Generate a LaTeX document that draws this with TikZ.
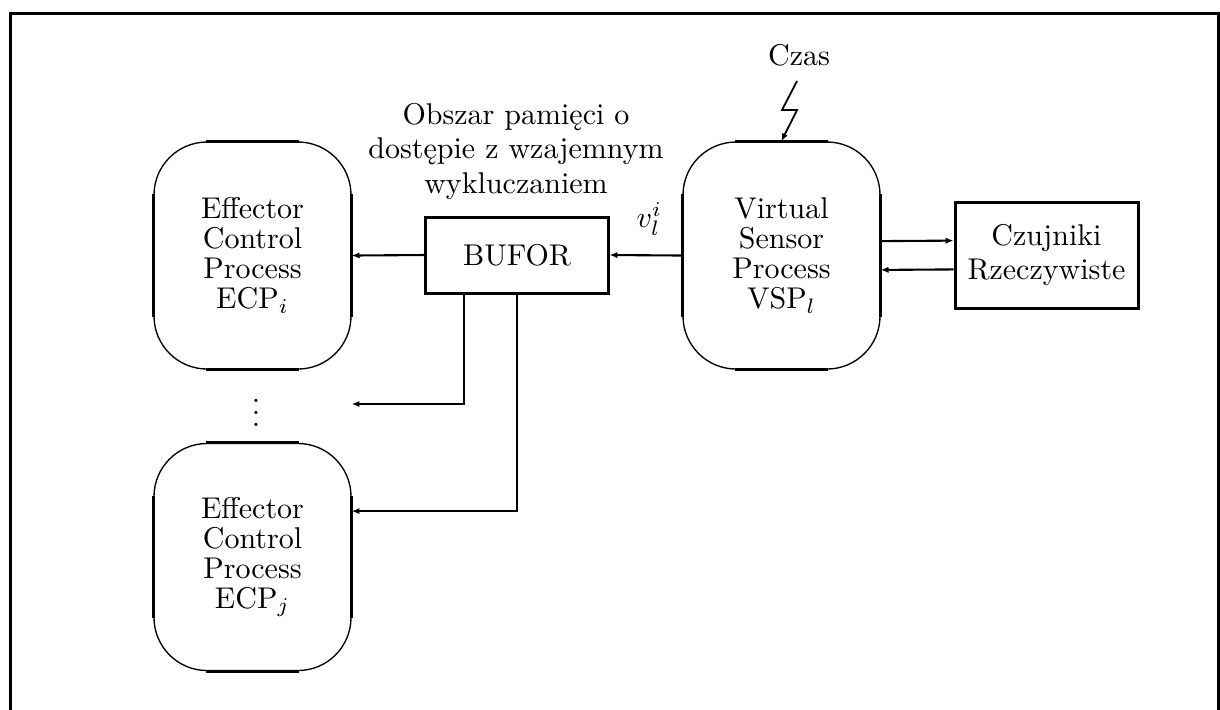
\documentclass[tikz,border=0pt]{standalone}
\usepackage{fontspec}
\usetikzlibrary{arrows.meta,calc}
\begin{document}
\begin{tikzpicture}[x=0.3333pt,y=-0.3333pt,
  font=\fontsize{10}{10}\selectfont,
  proc/.style={draw,line width=0.45pt,rounded corners=17.7pt,
    minimum width=65.67pt,minimum height=75.67pt,inner sep=0pt,align=center},
  blk/.style={draw,line width=1pt,inner sep=0pt,align=center},
  conn/.style={line width=0.7pt,-{Latex[length=2.6pt,width=2.1pt]}},
  side/.style={line width=1pt},
  frame/.style={line width=1pt}]
\useasboundingbox (0,0) rectangle (1220,709);
\draw[frame] (10.5,13.3) rectangle (1218.5,740);

% processes
\node[proc] (ecpi) at (252.5,255.5) {Effector\\Control\\Process\\ECP$_i$};
\node[proc] (ecpj) at (252.5,557) {Effector\\Control\\Process\\ECP$_j$};
\node[proc] (vsp) at (781.5,255.5) {Virtual\\Sensor\\Process\\VSP$_l$};
\foreach \n in {ecpi,ecpj,vsp}{
  \draw[side] ($(\n.north west)+(53,0)$) -- ($(\n.north east)+(-53,0)$);
  \draw[side] ($(\n.south west)+(53,0)$) -- ($(\n.south east)+(-53,0)$);
  \draw[side] ($(\n.north west)+(0,53)$) -- ($(\n.south west)+(0,-53)$);
  \draw[side] ($(\n.north east)+(0,53)$) -- ($(\n.south east)+(0,-53)$);
}

% buffer and real sensors
\node[blk,minimum width=60.67pt,minimum height=25.33pt] (bufor) at (517,255) {BUFOR};
\node[blk,minimum width=61pt,minimum height=35.33pt,
  font=\fontsize{10}{11.6}\selectfont] (czuj) at (1046.5,255) {Czujniki\\Rzeczywiste};

% labels
\node[inner sep=0pt,anchor=south,align=center,font=\fontsize{10}{11.5}\selectfont]
  (mem) at (516,200) {Obszar pamięci o\\dostępie z wzajemnym\\wykluczaniem};
\node[inner sep=0pt,anchor=base west] (v) at (636,227) {$v_l^i$};
\node[inner sep=0pt,anchor=base] (czas) at (799,65) {Czas};
\node[inner sep=0pt] (dots) at (256,404) {$\vdots$};

% connectors
\draw[conn] (vsp.west) -- (bufor.east);
\draw[conn] (bufor.west) -- (ecpi.east);
\draw[conn] ([yshift=4.8pt]vsp.east) -- ([yshift=4.8pt]czuj.west);
\draw[conn] ([yshift=-4.8pt]czuj.west) -- ([yshift=-4.8pt]vsp.east);
\draw[conn] ([xshift=-17.67pt]bufor.south) |- (ecpi.east |- dots);
\draw[conn] (bufor.south) |- ([yshift=15.3pt]ecpj.east);

% clock signal
\coordinate (zap) at (797,81);
\draw[conn,line width=0.6pt] (zap) -- (782,110) -- (797,110) -- ($(vsp.north west)+(99,0)$);
\end{tikzpicture}
\end{document}
